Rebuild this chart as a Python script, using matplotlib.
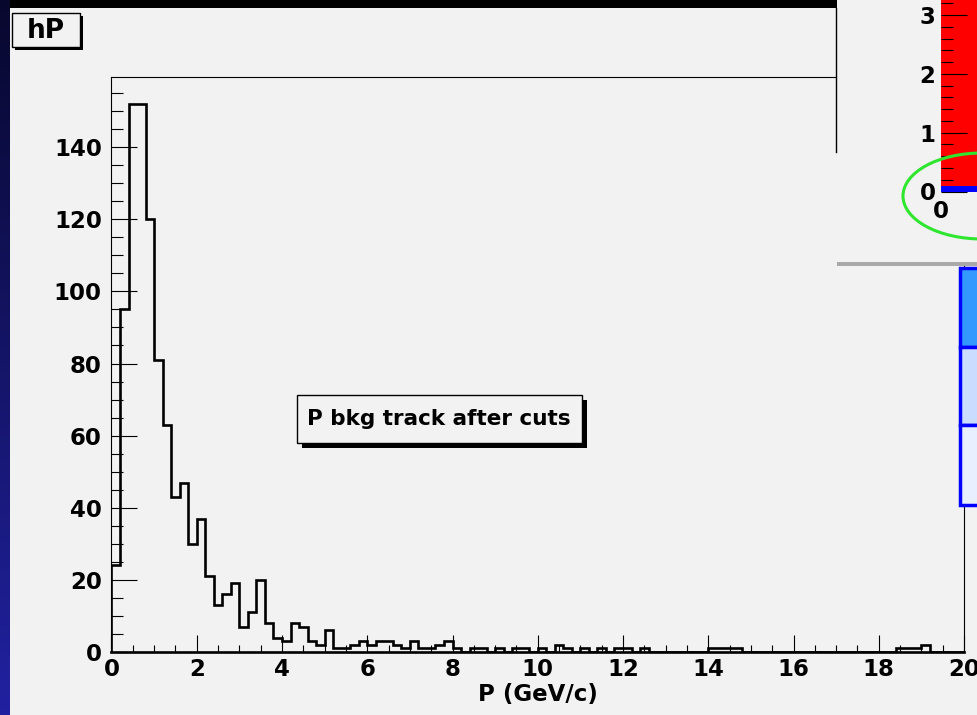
import numpy as np
import matplotlib
matplotlib.use("Agg")
import matplotlib.pyplot as plt
from matplotlib.patches import Rectangle, Ellipse
from matplotlib.ticker import MultipleLocator

plt.rcParams["font.family"] = ["DejaVu Sans"]
plt.rcParams["font.weight"] = "bold"

# hP histogram: 100 bins from 0 to 20 GeV/c
p_low, p_high, n_bins = 0.0, 20.0, 100
counts = [
    24, 95, 152, 152, 120, 81, 63, 43, 47, 30,
    37, 21, 13, 16, 19, 7, 11, 20, 8, 4,
    3, 8, 7, 3, 2, 6, 1, 1, 2, 3,
    2, 3, 3, 2, 1, 3, 1, 1, 2, 3,
    1, 0, 1, 1, 0, 1, 0, 1, 1, 0,
    1, 0, 2, 1, 0, 1, 0, 1, 0, 1,
    1, 0, 1, 0, 0, 0, 0, 0, 0, 0,
    1, 1, 1, 1, 0, 0, 0, 0, 0, 0,
    0, 0, 0, 0, 0, 0, 0, 0, 0, 0,
    0, 0, 1, 1, 1, 2, 0, 0, 0, 0,
]
title_text = "hP"
box_text = "P bkg track after cuts"
x_title = "P (GeV/c)"

# inset (partly hidden second plot, top right)
inset_yticks = [0, 1, 2, 3]
inset_blue_y = [0.05]

W, H = 978, 715
fig = plt.figure(figsize=(W / 100, H / 100), dpi=100, facecolor="black")


def frac(x0, y0, x1, y1):
    # pixel box (top-left origin) -> figure fraction rect
    return [x0 / W, 1 - y1 / H, (x1 - x0) / W, (y1 - y0) / H]


def px_axes():
    a = fig.add_axes([0, 0, 1, 1])
    a.set_xlim(0, W)
    a.set_ylim(H, 0)
    a.axis("off")
    a.patch.set_alpha(0)
    return a


# slide background
bg = px_axes()
bg.add_patch(Rectangle((10, 8), W - 10, H - 8, color="#f2f2f2", lw=0))
grad = np.linspace(0, 1, 256).reshape(-1, 1)
strip = np.dstack([0.03 + 0.10 * grad, 0.03 + 0.10 * grad, 0.18 + 0.45 * grad])
bg.imshow(strip, extent=[0, 10, H, 0], aspect="auto")
bg.set_xlim(0, W)
bg.set_ylim(H, 0)

# main histogram pad
ax = fig.add_axes(frac(111.5, 76.5, 964, 652))
ax.patch.set_alpha(0)
edges = np.linspace(p_low, p_high, n_bins + 1)
ax.stairs(counts, edges, color="black", lw=1.9, baseline=0)
ax.set_xlim(p_low, p_high)
ax.set_ylim(0, 1.05 * max(counts))
ax.xaxis.set_major_locator(MultipleLocator(2))
ax.xaxis.set_minor_locator(MultipleLocator(0.5))
ax.yaxis.set_major_locator(MultipleLocator(20))
ax.yaxis.set_minor_locator(MultipleLocator(5))
ax.tick_params(axis="both", which="both", direction="in", width=0.8,
               top=False, right=False, labelsize=16.5)
ax.tick_params(axis="x", which="major", length=12, pad=4)
ax.tick_params(axis="x", which="minor", length=5)
ax.tick_params(axis="y", which="major", length=19, pad=7)
ax.tick_params(axis="y", which="minor", length=8.5)
for lab in ax.get_xticklabels() + ax.get_yticklabels():
    lab.set_fontweight("bold")
for s in ["top", "right", "left"]:
    ax.spines[s].set_linewidth(0.8)
ax.spines["bottom"].set_linewidth(1.9)
fig.text(537.5 / W, 1 - 694 / H, x_title, ha="center", va="center",
         fontsize=16.5, fontweight="bold")

# overlay: title box, text box, inset window, table
ov = px_axes()
ov.add_patch(Rectangle((15, 16), 68, 34, color="black", lw=0))
ov.add_patch(Rectangle((12, 13), 68, 34, facecolor="#f2f2f2", edgecolor="black", lw=1))
ov.text(46, 30.5, title_text, ha="center", va="center", fontsize=19, fontweight="bold")
ov.add_patch(Rectangle((302, 400), 285, 48, color="black", lw=0))
ov.add_patch(Rectangle((297, 395), 285, 48, facecolor="#f2f2f2", edgecolor="black", lw=1))
ov.text(307, 419, box_text, ha="left", va="center", fontsize=15.5, fontweight="bold")

ov.add_patch(Rectangle((837, 0), W - 837, 262, color="#f2f2f2", lw=0))
ov.add_patch(Rectangle((837, 262), W - 837, 3.5, color="#a9a9a9", lw=0))
ov.plot([836, 836], [8, 152], color="black", lw=1)

rows = [(268, 347, "#3399ff"), (347, 425, "#cadcff"), (425, 505, "#e8efff")]
for y0, y1, c in rows:
    ov.add_patch(Rectangle((960, y0), 40, y1 - y0, facecolor=c, edgecolor="#0000ff", lw=2.5))
ov.set_xlim(0, W)
ov.set_ylim(H, 0)

# inset plot (scatter region, mostly cut off)
ins = fig.add_axes(frac(941, 0, 1000, 191.5))
ins.set_facecolor("#ff0000")
ins.set_xlim(0, 1)
ins.set_ylim(0, 191.5 / 58.8)
for yb in inset_blue_y:
    ins.axhline(yb, color="#0000ff", lw=5)
ins.yaxis.set_major_locator(MultipleLocator(1))
ins.yaxis.set_minor_locator(MultipleLocator(0.2))
ins.set_yticks(inset_yticks)
ins.set_xticks([0])
ins.tick_params(axis="both", which="both", direction="in", width=0.8, labelsize=16.5,
                colors="black")
ins.tick_params(axis="y", which="major", length=19, pad=4)
ins.tick_params(axis="y", which="minor", length=8.5)
ins.tick_params(axis="x", which="major", length=0, pad=6)
for lab in ins.get_xticklabels() + ins.get_yticklabels():
    lab.set_fontweight("bold")
for s in ins.spines.values():
    s.set_visible(False)

# green ellipse on top
top = px_axes()
top.add_patch(Ellipse((982, 196), 158, 86, fill=False, edgecolor="#2ee62e", lw=2.2))
top.set_xlim(0, W)
top.set_ylim(H, 0)

fig.savefig("out.png", dpi=100, facecolor=fig.get_facecolor())
